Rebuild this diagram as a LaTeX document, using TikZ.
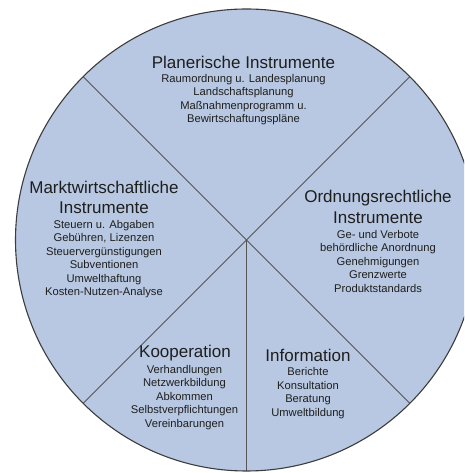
\documentclass[tikz,border=0pt]{standalone}
\usepackage{fontspec}
\setmainfont{Liberation Sans}
\usetikzlibrary{calc}
\definecolor{pie}{RGB}{184,200,226}
\definecolor{edge}{RGB}{60,60,60}
\definecolor{divider}{RGB}{85,85,85}
\definecolor{ink}{RGB}{30,30,30}
\tikzset{
  titletext/.style={text=ink, inner sep=0pt, align=center, font=\fontsize{17}{20.5}\selectfont},
  bodytext/.style={text=ink, inner sep=0pt, align=center, font=\fontsize{11.2}{13.5}\selectfont},
  divline/.style={draw=divider, line width=0.9pt}
}
\begin{document}
\begin{tikzpicture}[x=1pt,y=1pt]
\useasboundingbox (0,0) rectangle (464,473);
\begin{scope}
\clip (0,0) rectangle (464,473);
\coordinate (c) at (246.5,233);
\fill[pie] (c) circle (231);
\coordinate (ul) at ($(c)+(135:231)$);
\coordinate (ur) at ($(c)+(45:231)$);
\coordinate (ll) at ($(c)+(225:231)$);
\coordinate (lr) at ($(c)+(315:231)$);
\coordinate (bt) at ($(c)+(270:231)$);
\draw[divline] (ul) -- (c) -- (lr);
\draw[divline] (ur) -- (c) -- (ll);
\draw[divline] (c) -- (bt);
\draw[edge, line width=1.1pt] (c) circle (231);
\end{scope}

\node[titletext] (plant) at (243.5,411) {Planerische Instrumente};
\node[bodytext] (planb) at (243.5,373.5) {Raumordnung u. Landesplanung\\Landschaftsplanung\\Maßnahmenprogramm u.\\Bewirtschaftungspläne};

\node[titletext] (markt) at (104,275.5) {Marktwirtschaftliche\\Instrumente};
\node[bodytext] (marktb) at (104,214) {Steuern u. Abgaben\\Gebühren, Lizenzen\\Steuervergünstigungen\\Subventionen\\Umwelthaftung\\Kosten-Nutzen-Analyse};

\node[titletext] (ordt) at (378,266) {Ordnungsrechtliche\\Instrumente};
\node[bodytext] (ordb) at (378,211.5) {Ge- und Verbote\\behördliche Anordnung\\Genehmigungen\\Grenzwerte\\Produktstandards};

\node[titletext] (koopt) at (185,120) {Kooperation};
\node[bodytext] (koopb) at (184.5,75.5) {Verhandlungen\\Netzwerkbildung\\Abkommen\\Selbstverpflichtungen\\Vereinbarungen};

\node[titletext] (infot) at (308,118) {Information};
\node[bodytext] (infob) at (308,80) {Berichte\\Konsultation\\Beratung\\Umweltbildung};
\end{tikzpicture}
\end{document}
